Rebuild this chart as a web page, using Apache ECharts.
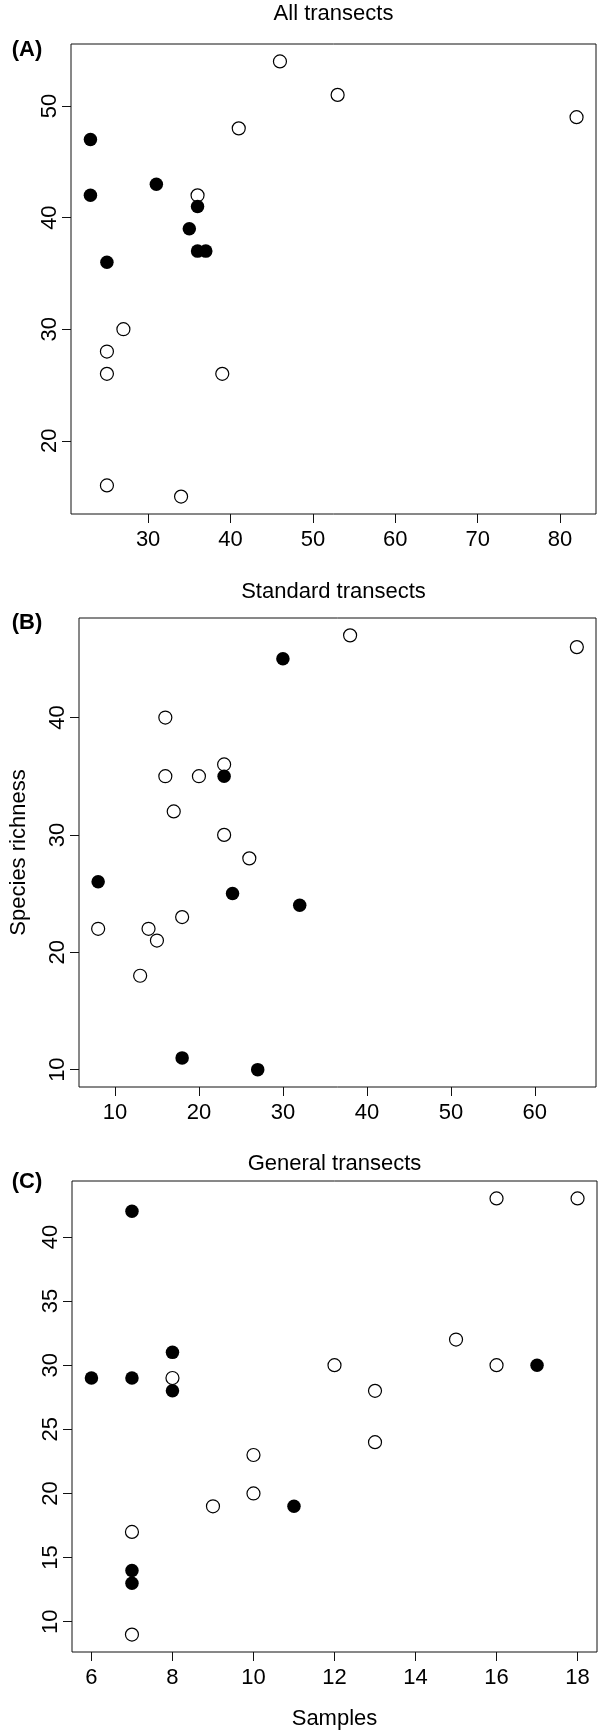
<!DOCTYPE html>
<html>
<head>
<meta charset="utf-8">
<script src="https://cdn.jsdelivr.net/npm/echarts@6/dist/echarts.min.js"></script>
<style>
  html, body { margin: 0; padding: 0; background: #fff; }
  #chart { width: 600px; height: 1733px; }
</style>
</head>
<body>
<div id="chart"></div>
<script>
  // (A) All transects
  var aOpenX = [46, 53, 82, 41, 36, 27, 25, 25, 39, 25, 34];
  var aOpenY = [54, 51, 49, 48, 42, 30, 28, 26, 26, 16, 15];
  var aFillX = [23, 23, 31, 36, 35, 36, 37, 25];
  var aFillY = [47, 42, 43, 41, 39, 37, 37, 36];
  var aTicksX = [30, 40, 50, 60, 70, 80];
  var aTicksY = [20, 30, 40, 50];

  // (B) Standard transects
  var bOpenX = [38, 65, 16, 23, 16, 20, 17, 23, 26, 8, 14, 15, 18, 13];
  var bOpenY = [47, 46, 40, 36, 35, 35, 32, 30, 28, 22, 22, 21, 23, 18];
  var bFillX = [30, 23, 8, 24, 32, 18, 27];
  var bFillY = [45, 35, 26, 25, 24, 11, 10];
  var bTicksX = [10, 20, 30, 40, 50, 60];
  var bTicksY = [10, 20, 30, 40];

  // (C) General transects
  var cOpenX = [16, 18, 15, 12, 16, 13, 13, 8, 10, 10, 9, 7, 7];
  var cOpenY = [43, 43, 32, 30, 30, 28, 24, 29, 23, 20, 19, 17, 9];
  var cFillX = [7, 8, 6, 7, 8, 17, 11, 7, 7];
  var cFillY = [42, 31, 29, 29, 28, 30, 19, 14, 13];
  var cTicksX = [6, 8, 10, 12, 14, 16, 18];
  var cTicksY = [10, 15, 20, 25, 30, 35, 40];

  var titles = ['All transects', 'Standard transects', 'General transects'];
  var tags = ['(A)', '(B)', '(C)'];

  var FONT = '"Liberation Sans", Arial, Helvetica, sans-serif';
  var INK = '#111';

  // R style range: data range widened by 4% on each side
  function rng(a, b) {
    var all = a.concat(b);
    var lo = Math.min.apply(null, all), hi = Math.max.apply(null, all);
    var pad = (hi - lo) * 0.04;
    return [lo - pad, hi + pad];
  }

  function zip(xs, ys) {
    var out = [];
    for (var i = 0; i < xs.length; i++) out.push([xs[i], ys[i]]);
    return out;
  }

  var panels = [
    { ox: aOpenX, oy: aOpenY, fx: aFillX, fy: aFillY, tx: aTicksX, ty: aTicksY,
      grid: { left: 71, top: 44, width: 525, height: 470 }, titleY: 14, tagY: 50 },
    { ox: bOpenX, oy: bOpenY, fx: bFillX, fy: bFillY, tx: bTicksX, ty: bTicksY,
      grid: { left: 71, top: 618, width: 525, height: 469 }, titleY: 592, tagY: 623 },
    { ox: cOpenX, oy: cOpenY, fx: cFillX, fy: cFillY, tx: cTicksX, ty: cTicksY,
      grid: { left: 72, top: 1181, width: 525, height: 471 }, titleY: 1164, tagY: 1182 }
  ];

  var grids = [], xAxes = [], yAxes = [], series = [], graphics = [];

  for (var i = 0; i < panels.length; i++) {
    var p = panels[i];
    var xr = rng(p.ox, p.fx), yr = rng(p.oy, p.fy);
    grids.push({
      left: p.grid.left, top: p.grid.top, width: p.grid.width, height: p.grid.height,
      show: true, borderColor: INK, borderWidth: 1, backgroundColor: 'transparent'
    });
    var xa = {
      type: 'value', gridIndex: i, min: xr[0], max: xr[1],
      axisLine: { show: false },
      axisTick: { show: true, customValues: p.tx, length: 9, lineStyle: { color: INK, width: 1 } },
      axisLabel: { customValues: p.tx, fontSize: 22, color: '#000', fontFamily: FONT, margin: 15 },
      splitLine: { show: false }
    };
    var ya = {
      type: 'value', gridIndex: i, min: yr[0], max: yr[1],
      axisLine: { show: false },
      axisTick: { show: true, customValues: p.ty, length: 9, lineStyle: { color: INK, width: 1 } },
      axisLabel: { customValues: p.ty, fontSize: 22, color: '#000', fontFamily: FONT, margin: 10, rotate: 90 },
      splitLine: { show: false }
    };
    if (i === 1) {
      ya.name = 'Species richness';
      ya.nameLocation = 'middle';
      ya.nameRotate = 90;
      ya.nameGap = 49;
      ya.nameTextStyle = { fontSize: 22, color: '#000', fontFamily: FONT };
    }
    if (i === 2) {
      xa.name = 'Samples';
      xa.nameLocation = 'middle';
      xa.nameGap = 56;
      xa.nameTextStyle = { fontSize: 22, color: '#000', fontFamily: FONT };
    }
    xAxes.push(xa);
    yAxes.push(ya);

    series.push({
      type: 'scatter', xAxisIndex: i, yAxisIndex: i,
      data: zip(p.ox, p.oy), symbol: 'circle', symbolSize: 13,
      itemStyle: { color: 'rgba(0,0,0,0)', borderColor: '#000', borderWidth: 1.2, opacity: 1 }
    });
    series.push({
      type: 'scatter', xAxisIndex: i, yAxisIndex: i,
      data: zip(p.fx, p.fy), symbol: 'circle', symbolSize: 13.5,
      itemStyle: { color: '#000', opacity: 1 }
    });

    graphics.push({
      type: 'text', x: p.grid.left + p.grid.width / 2, y: p.titleY,
      style: { text: titles[i], fill: '#000', font: '22px ' + FONT, textAlign: 'center', textVerticalAlign: 'middle' }
    });
    graphics.push({
      type: 'text', x: 27, y: p.tagY,
      style: { text: tags[i], fill: '#000', font: 'bold 22px ' + FONT, textAlign: 'center', textVerticalAlign: 'middle' }
    });
  }

  var chart = echarts.init(document.getElementById('chart'));
  chart.setOption({
    animation: false,
    backgroundColor: '#fff',
    textStyle: { fontFamily: FONT },
    grid: grids,
    xAxis: xAxes,
    yAxis: yAxes,
    series: series,
    graphic: graphics
  });
</script>
</body>
</html>
